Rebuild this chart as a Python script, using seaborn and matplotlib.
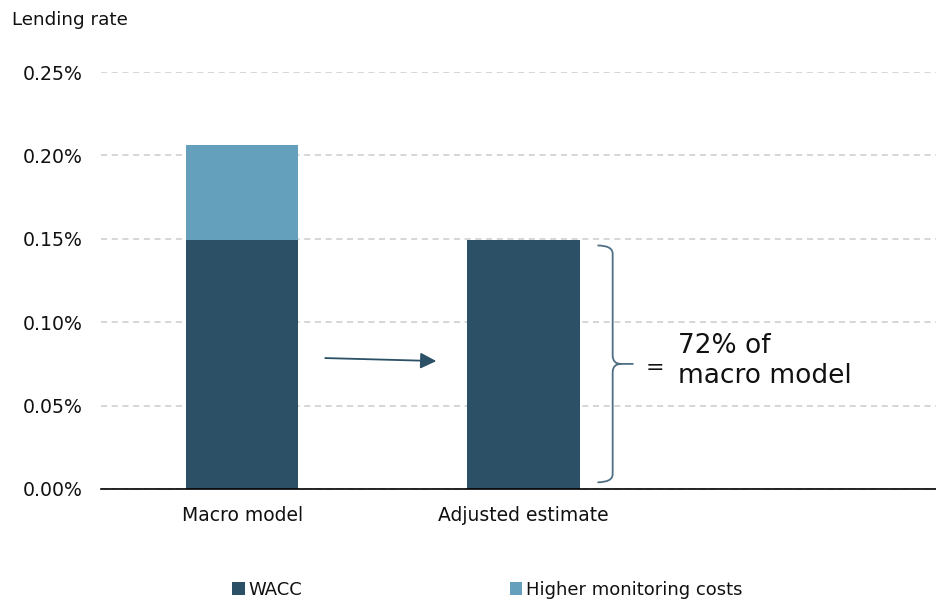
import matplotlib
matplotlib.use("Agg")
import matplotlib.pyplot as plt
import seaborn as sns
import pandas as pd
from matplotlib.patches import Patch, PathPatch
from matplotlib.path import Path
from matplotlib.ticker import FuncFormatter

# Chart data (lending rate, %)
categories = ["Macro model", "Adjusted estimate"]
wacc = [0.149, 0.149]
monitoring = [0.057, 0.0]
y_ticks = [0.0, 0.05, 0.10, 0.15, 0.20, 0.25]
series_names = ["WACC", "Higher monitoring costs"]

DARK = "#2c5066"
LIGHT = "#649fbc"
BRACE = "#4f6f85"

sns.set_theme(style="white")
plt.rcParams["font.family"] = ["DejaVu Sans"]
plt.rcParams["text.color"] = "#111111"

df = pd.DataFrame({
    "category": categories,
    "wacc": wacc,
    "total": [w + m for w, m in zip(wacc, monitoring)],
})

fig = plt.figure(figsize=(9.37, 6.0), dpi=100)
ax = fig.add_axes([0.1078, 0.185, 0.8922, 0.695])

# Stacked bars: full height first, WACC on top of it
sns.barplot(data=df, x="category", y="total", color=LIGHT, saturation=1,
            width=0.4, linewidth=0, ax=ax)
sns.barplot(data=df, x="category", y="wacc", color=DARK, saturation=1,
            width=0.4, linewidth=0, ax=ax)

ax.set_ylim(0, 0.25)
ax.set_xlim(-0.502, 2.47)
ax.set_yticks(y_ticks)
ax.yaxis.set_major_formatter(FuncFormatter(lambda v, _: f"{v:.2f}%"))
ax.set_xlabel("")
ax.set_ylabel("")
ax.tick_params(axis="y", length=0, pad=13.5, labelsize=13.6, labelcolor="#111111")
ax.tick_params(axis="x", length=0, pad=12.5, labelsize=13.5, labelcolor="#111111")

ax.yaxis.grid(True, color="#cccccc", linestyle=(0, (4, 3)), linewidth=1.1)
ax.set_axisbelow(True)
for side in ["top", "right", "left"]:
    ax.spines[side].set_visible(False)
ax.spines["bottom"].set_color("#000000")
ax.spines["bottom"].set_linewidth(1.2)

fig.text(12 / 937, 1 - 20 / 600, "Lending rate", fontsize=13.2,
         ha="left", va="center", color="#111111")

# Arrow from the macro model bar to the adjusted estimate
ax.annotate("", xy=(0.69, 0.0767), xytext=(0.295, 0.0785),
            arrowprops=dict(arrowstyle="-|>", color=DARK, lw=1.3,
                            mutation_scale=24, shrinkA=0, shrinkB=0))

# Curly brace spanning the adjusted estimate bar
top = wacc[1] - 0.003
bot = 0.004
mid = (top + bot) / 2
x0, x1, xt = 1.263, 1.317, 1.391
ry = 0.005
verts = [
    (x0, top), (x1, top), (x1, top - ry),
    (x1, mid + ry), (x1, mid), (x1 + 0.03, mid),
    (xt, mid),
    (x1 + 0.03, mid), (x1, mid), (x1, mid - ry),
    (x1, bot + ry), (x1, bot), (x0, bot),
]
codes = [
    Path.MOVETO, Path.CURVE3, Path.CURVE3,
    Path.LINETO, Path.CURVE3, Path.CURVE3,
    Path.LINETO,
    Path.MOVETO, Path.CURVE3, Path.CURVE3,
    Path.LINETO, Path.CURVE3, Path.CURVE3,
]
ax.add_patch(PathPatch(Path(verts, codes), facecolor="none",
                       edgecolor=BRACE, lw=1.3, clip_on=False))

share = round(100 * wacc[1] / df["total"][0])
ax.text(1.466, 0.0725, "=", fontsize=16, ha="center", va="center")
ax.text(1.548, 0.0767, f"{share}% of\nmacro model", fontsize=19,
        ha="left", va="center", linespacing=1.2)

handles = [Patch(facecolor=DARK, edgecolor="none"),
           Patch(facecolor=LIGHT, edgecolor="none")]
fig.legend(handles, series_names, loc="center", bbox_to_anchor=(0.52, 0.017),
           ncol=2, frameon=False, fontsize=13, handlelength=0.7,
           handleheight=0.7, handletextpad=0.2, columnspacing=11.5)

fig.savefig("out.png", dpi=100)
